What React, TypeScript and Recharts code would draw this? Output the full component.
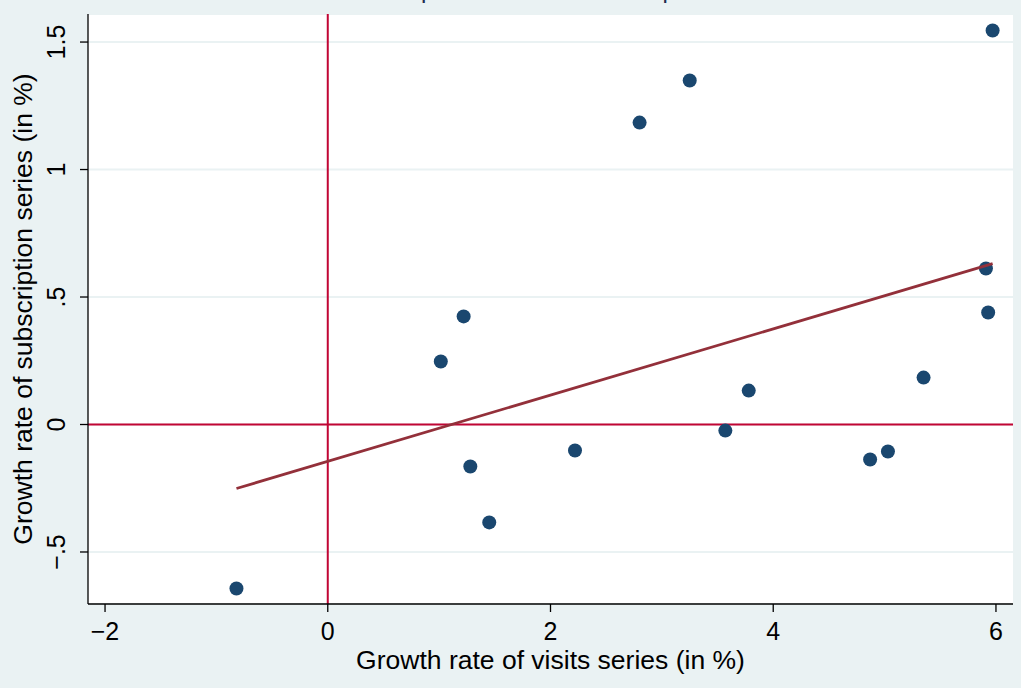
import { CartesianGrid, ReferenceLine, Scatter, ScatterChart, XAxis, YAxis } from "recharts";

// growth rates (in %)
const visitsGrowth = [-0.82, 1.015, 1.22, 1.28, 1.45, 2.22, 2.8, 3.25, 3.57, 3.78, 4.87, 5.03, 5.35, 5.91, 5.93, 5.97];
const subsGrowth = [-0.643, 0.247, 0.424, -0.165, -0.384, -0.102, 1.184, 1.349, -0.024, 0.133, -0.137, -0.106, 0.184, 0.612, 0.439, 1.545];

// linear fit endpoints
const fitX = [-0.82, 5.97];
const fitY = [-0.251, 0.631];

const xTicks = [-2, 0, 2, 4, 6];
const yTicks = [-0.5, 0, 0.5, 1, 1.5];

const BG = "#EAF2F3";
const NAVY = "#1a476f";
const RED = "#C10534";
const MAROON = "#93303A";
const FONT = "'Liberation Sans', Arial, Helvetica, sans-serif";

const points = visitsGrowth.map((x, i) => ({ x, y: subsGrowth[i] }));
const fitLine = fitX.map((x, i) => ({ x, y: fitY[i] }));

// stata style numbers: -.5, .5, unicode minus
const fmt = (v: number) => {
  let s = String(Math.abs(v));
  if (s.startsWith("0.")) s = s.slice(1);
  return (v < 0 ? "\u2212" : "") + s;
};

const XTick = (props: any) => {
  const { x, payload } = props;
  return (
    <text x={x} y={640} textAnchor="middle" fontSize={25} fontFamily={FONT} fill="#000">
      {fmt(payload.value)}
    </text>
  );
};

const YTick = (props: any) => {
  const { y, payload } = props;
  return (
    <text
      x={65}
      y={y}
      transform={`rotate(-90, 65, ${y})`}
      textAnchor="middle"
      fontSize={25}
      fontFamily={FONT}
      fill="#000"
    >
      {fmt(payload.value)}
    </text>
  );
};

export default function App() {
  return (
    <div style={{ position: "absolute", left: 0, top: 0, width: 1021, height: 688, background: BG, overflow: "hidden" }}>
      <ScatterChart width={1021} height={688} margin={{ top: 14, right: 8, bottom: 0, left: 0 }}>
        <CartesianGrid vertical={false} horizontal fill="#fff" stroke={BG} strokeWidth={2} />
        <XAxis
          type="number"
          dataKey="x"
          domain={[-2.153, 6.153]}
          ticks={xTicks}
          allowDataOverflow
          height={84}
          stroke="#000"
          strokeWidth={1.3}
          tickSize={8}
          tick={XTick}
          label={{
            value: "Growth rate of visits series (in %)",
            position: "insideBottom",
            offset: 19,
            fontSize: 26.5,
            fontFamily: FONT,
            fill: "#000",
          }}
        />
        <YAxis
          type="number"
          dataKey="y"
          domain={[-0.704, 1.61]}
          ticks={yTicks}
          allowDataOverflow
          width={88}
          stroke="#000"
          strokeWidth={1.3}
          tickSize={8}
          tick={YTick}
          label={{
            value: "Growth rate of subscription series (in %)",
            angle: -90,
            position: "insideLeft",
            offset: 23,
            fontSize: 26.5,
            fontFamily: FONT,
            fill: "#000",
            style: { textAnchor: "middle" },
          }}
        />
        <ReferenceLine x={0} stroke={RED} strokeWidth={2} />
        <ReferenceLine y={0} stroke={RED} strokeWidth={2} />
        <Scatter data={points} fill={NAVY} isAnimationActive={false} shape={(p: any) => <circle cx={p.cx} cy={p.cy} r={7} fill={NAVY} />} />
        <Scatter
          data={fitLine}
          line={{ stroke: MAROON, strokeWidth: 2.8 }}
          shape={() => <g />}
          isAnimationActive={false}
        />
      </ScatterChart>
      <svg width={1021} height={14} style={{ position: "absolute", left: 0, top: 0 }}>
        <text x={341} y={-2} fontSize={24} fontFamily={FONT} fill="#1e2d4f">
          Subscription versus visits comparison
        </text>
      </svg>
    </div>
  );
}
